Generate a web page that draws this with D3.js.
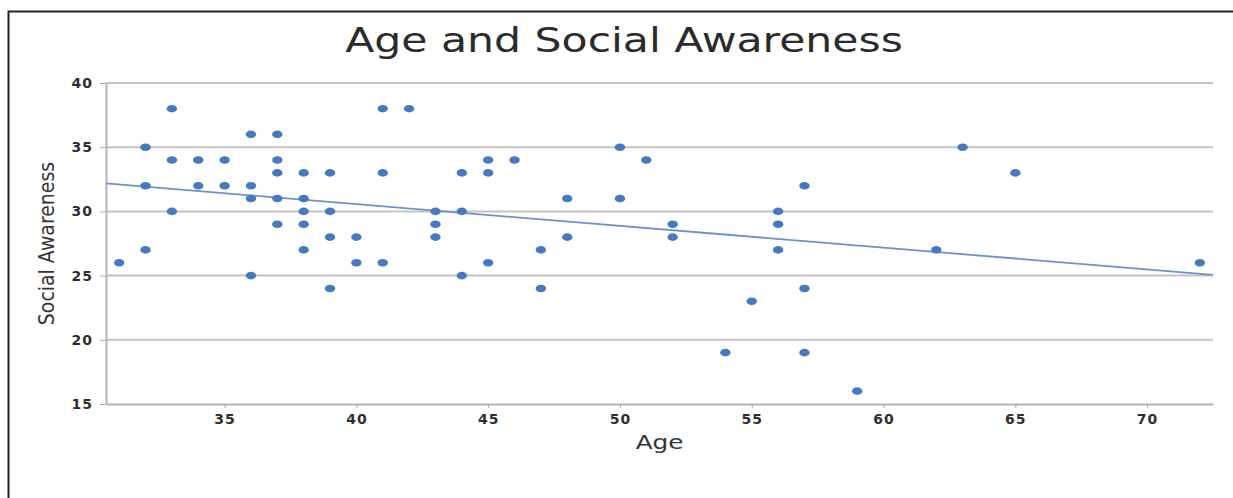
<!DOCTYPE html>
<html>
<head>
<meta charset="utf-8">
<script src="https://cdn.jsdelivr.net/npm/d3@7"></script>
<style>
  body { margin: 0; background: #fff; }
</style>
</head>
<body>
<div id="chart"></div>
<script>
// data
var ages = [31, 32, 32, 32, 33, 33, 33, 34, 34, 35, 35, 36, 36, 36, 36,
  37, 37, 37, 37, 37, 38, 38, 38, 38, 38, 39, 39, 39, 39, 40, 40,
  41, 41, 41, 42, 43, 43, 43, 44, 44, 44, 45, 45, 45, 46, 47, 47,
  48, 48, 50, 50, 51, 52, 52, 54, 55, 56, 56, 56, 57, 57, 57, 59,
  62, 63, 65, 72];
var awareness = [26, 35, 32, 27, 38, 34, 30, 34, 32, 34, 32, 36, 32, 31, 25,
  36, 34, 33, 31, 29, 33, 31, 30, 29, 27, 33, 30, 28, 24, 28, 26,
  38, 33, 26, 38, 30, 29, 28, 33, 30, 25, 34, 33, 26, 34, 27, 24,
  31, 28, 35, 31, 34, 29, 28, 19, 23, 30, 29, 27, 32, 24, 19, 16,
  27, 35, 33, 26];
var xTicks = [35, 40, 45, 50, 55, 60, 65, 70];
var yTicks = [15, 20, 25, 30, 35, 40];

var data = ages.map(function(a, i) { return {age: a, sa: awareness[i]}; });

// set the dimensions and margins of the graph
var W = 1233, H = 498;
var margin = {top: 83, right: 20, bottom: 94, left: 106},
    width = W - margin.left - margin.right,
    height = H - margin.top - margin.bottom;

var svg = d3.select("#chart")
  .append("svg")
    .attr("width", W)
    .attr("height", H);

// frame (left and top edges only)
svg.append("path")
  .attr("d", "M8.5," + H + " L8.5,11.5 L" + W + ",11.5")
  .attr("fill", "none")
  .attr("stroke", "#222")
  .attr("stroke-width", 2);

var g = svg.append("g")
  .attr("transform", "translate(" + margin.left + "," + margin.top + ")");

var x = d3.scaleLinear()
  .domain([30.5, 72.5])
  .range([0, width]);

var y = d3.scaleLinear()
  .domain([15, 40])
  .range([height, 0]);

// gridlines
g.selectAll(".grid")
  .data(yTicks.slice(1))
  .enter()
  .append("line")
    .attr("x1", 0)
    .attr("x2", width)
    .attr("y1", function(d) { return y(d); })
    .attr("y2", function(d) { return y(d); })
    .attr("stroke", "#c4c4c4")
    .attr("stroke-width", 2);

// X axis
var xAxis = g.append("g")
  .attr("transform", "translate(0," + height + ")")
  .call(d3.axisBottom(x).tickValues(xTicks).tickSize(4).tickPadding(6).tickSizeOuter(0));
xAxis.select(".domain").attr("stroke", "#b4b4b4").attr("stroke-width", 2);
xAxis.selectAll(".tick line").attr("stroke", "#aaa");
xAxis.selectAll("text")
  .style("font-family", "DejaVu Sans")
  .style("font-size", "14px")
  .style("font-weight", "bold")
  .style("letter-spacing", "1px")
  .attr("fill", "#2e2e2e");

// Y axis
var yAxis = g.append("g")
  .call(d3.axisLeft(y).tickValues(yTicks).tickSize(6).tickPadding(7).tickSizeOuter(0));
yAxis.select(".domain").attr("stroke", "#b4b4b4").attr("stroke-width", 2);
yAxis.selectAll(".tick line").attr("stroke", "#aaa");
yAxis.selectAll("text")
  .style("font-family", "DejaVu Sans")
  .style("font-size", "14px")
  .style("font-weight", "bold")
  .style("letter-spacing", "1px")
  .attr("fill", "#2e2e2e");

// least squares trend line
var mx = d3.mean(data, function(d) { return d.age; }),
    my = d3.mean(data, function(d) { return d.sa; });
var slope = d3.sum(data, function(d) { return (d.age - mx) * (d.sa - my); }) /
            d3.sum(data, function(d) { return (d.age - mx) * (d.age - mx); });
var icpt = my - slope * mx;
var xd = x.domain();

g.append("line")
  .attr("x1", x(xd[0]))
  .attr("y1", y(icpt + slope * xd[0]))
  .attr("x2", x(xd[1]))
  .attr("y2", y(icpt + slope * xd[1]))
  .attr("stroke", "#6b93c8")
  .attr("stroke-width", 1.8);

// dots
g.selectAll("dot")
  .data(data)
  .enter()
  .append("ellipse")
    .attr("cx", function(d) { return x(d.age); })
    .attr("cy", function(d) { return y(d.sa); })
    .attr("rx", 5.2)
    .attr("ry", 3.8)
    .attr("fill", "#4679bd");

// title and axis labels (the original is stretched sideways)
svg.append("text")
  .attr("transform", "translate(624,52) scale(1.29,1)")
  .attr("text-anchor", "middle")
  .style("font-family", "DejaVu Sans")
  .style("font-size", "33px")
  .attr("fill", "#2b2b2b")
  .text("Age and Social Awareness");

svg.append("text")
  .attr("transform", "translate(" + (margin.left + width / 2) + ",449) scale(1.3,1)")
  .attr("text-anchor", "middle")
  .style("font-family", "DejaVu Sans")
  .style("font-size", "19px")
  .attr("fill", "#333")
  .text("Age");

svg.append("text")
  .attr("transform", "translate(54," + (margin.top + height / 2) + ") rotate(-90)")
  .attr("text-anchor", "middle")
  .style("font-family", "DejaVu Sans Condensed")
  .style("font-size", "21px")
  .attr("fill", "#333")
  .text("Social Awareness");
</script>
</body>
</html>
